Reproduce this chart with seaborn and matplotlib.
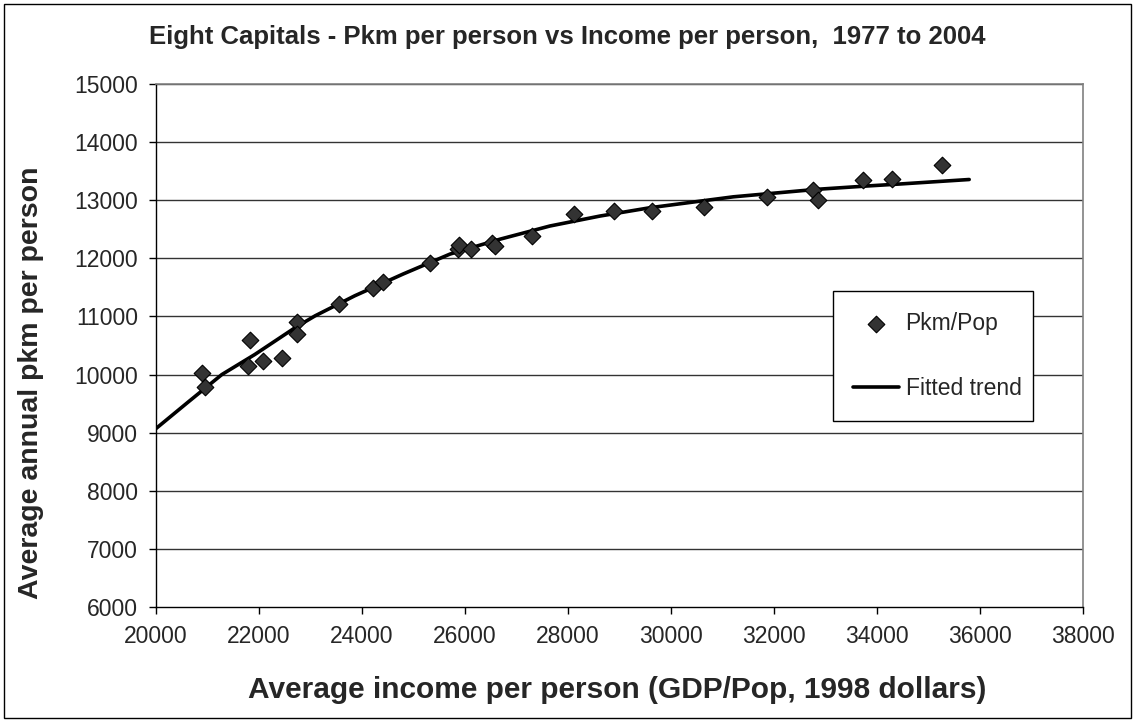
import matplotlib
matplotlib.use("Agg")
import numpy as np
import pandas as pd
import matplotlib.pyplot as plt
from matplotlib.patches import Rectangle
import seaborn as sns

# ---- data ----
income = [20890, 20950, 21780, 21830, 22080, 22440, 22730, 22730, 23560, 24210,
          24410, 25320, 25870, 25890, 26110, 26520, 26580, 27310, 28110, 28900,
          29630, 30640, 31860, 32760, 32860, 33730, 34300, 35260]
pkm_pop = [10020, 9790, 10140, 10590, 10230, 10290, 10900, 10700, 11220, 11490,
           11600, 11920, 12160, 12230, 12160, 12260, 12220, 12380, 12760, 12820,
           12820, 12880, 13050, 13180, 13010, 13340, 13370, 13610]

trend_x = [20000, 20630, 21280, 21920, 22700, 23090, 23860, 24800, 25710, 26680,
           27650, 28620, 29590, 30560, 31210, 32830, 33800, 34450, 35790]
trend_y = [9070, 9530, 10000, 10345, 10805, 11010, 11355, 11730, 12073, 12329,
           12556, 12727, 12870, 12983, 13058, 13187, 13244, 13279, 13356]

x_ticks = list(range(20000, 38001, 2000))
y_ticks = list(range(6000, 15001, 1000))

points = pd.DataFrame({"income": income, "pkm": pkm_pop})
trend = pd.DataFrame({"income": trend_x, "pkm": trend_y})

# ---- style ----
sns.set_style("white")
plt.rcParams["font.family"] = ["Liberation Sans", "DejaVu Sans"]

fig = plt.figure(figsize=(11.35, 7.22), dpi=100)
ax = fig.add_axes([0.1374, 0.1593, 0.8168, 0.7244])

ax.grid(False)
for y in y_ticks[1:]:
    ax.axhline(y, color="#333333", lw=1.0, zorder=0)

sns.lineplot(data=trend, x="income", y="pkm", ax=ax, color="black", lw=2.6,
             sort=False, estimator=None, label="Fitted trend", zorder=3)
sns.scatterplot(data=points, x="income", y="pkm", ax=ax, marker="D", s=72,
                color="#333333", edgecolor="black", linewidth=0.8,
                label="Pkm/Pop", zorder=4)

ax.set_xlim(20000, 38000)
ax.set_ylim(6000, 15000)
ax.set_xticks(x_ticks)
ax.set_yticks(y_ticks)
ax.tick_params(axis="both", direction="out", length=5, width=1, color="black",
               labelsize=16.5, pad=8)
ax.tick_params(axis="x", bottom=True)
ax.tick_params(axis="y", left=True)

for side in ["left", "bottom"]:
    ax.spines[side].set_color("black")
    ax.spines[side].set_linewidth(1.0)
for side in ["top", "right"]:
    ax.spines[side].set_color("#808080")
    ax.spines[side].set_linewidth(1.2)

ax.set_xlabel("")
ax.set_ylabel("")
fig.text(0.544, 0.044, "Average income per person (GDP/Pop, 1998 dollars)",
         ha="center", va="center", fontsize=21.5, fontweight="bold")
fig.text(0.027, 0.47, "Average annual pkm per person", rotation=90,
         ha="center", va="center", fontsize=20.5, fontweight="bold")
fig.text(0.5, 0.949, "Eight Capitals - Pkm per person vs Income per person,  1977 to 2004",
         ha="center", va="center", fontsize=18.5, fontweight="bold")

# legend: marker entry first, then the line
handles, labels = ax.get_legend_handles_labels()
order = [labels.index("Pkm/Pop"), labels.index("Fitted trend")]
leg = ax.legend([handles[i] for i in order], [labels[i] for i in order],
                loc="upper left", bbox_to_anchor=(0.730, 0.604, 0.216, 0.0),
                mode="expand", fontsize=16.5, frameon=True, fancybox=False,
                edgecolor="black", framealpha=1, borderaxespad=0,
                labelspacing=1.85, handlelength=2.0, handletextpad=0.28,
                borderpad=0.9)
leg.get_frame().set_linewidth(1.0)

# outer frame around the whole chart
fig.patches.append(Rectangle((4 / 1135, 4 / 722), 1 - 8 / 1135, 1 - 8 / 722,
                             transform=fig.transFigure, fill=False,
                             edgecolor="black", lw=1.0))

fig.savefig("out.png", dpi=100)
